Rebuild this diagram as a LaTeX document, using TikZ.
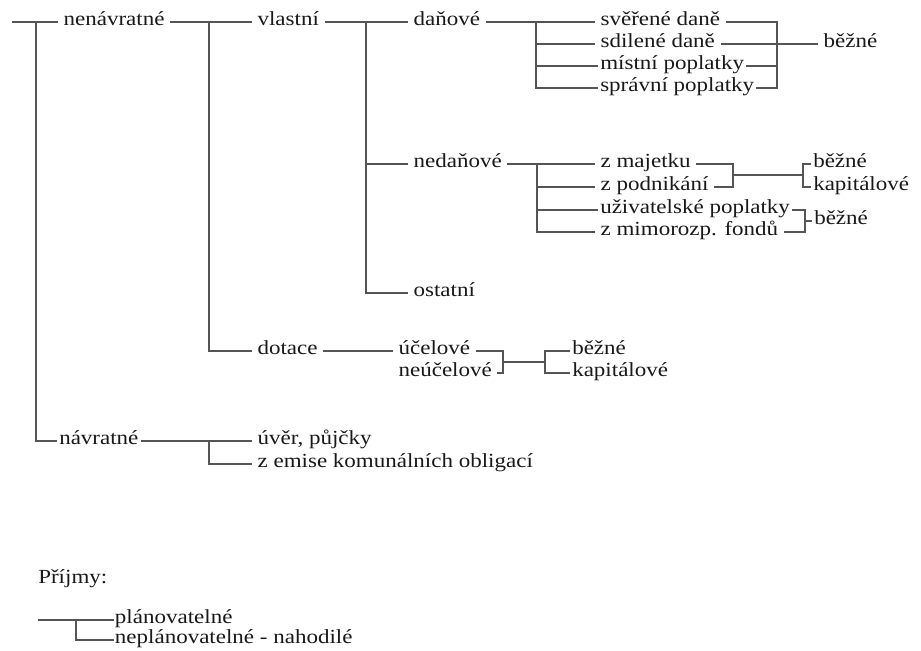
\documentclass[tikz,border=0pt]{standalone}
\usepackage{fontspec}
\setmainfont[FakeStretch=1.15]{Liberation Serif}
\usepackage{tikz}
\usetikzlibrary{positioning,calc}
\definecolor{linegray}{RGB}{85,85,85}
\definecolor{textgray}{RGB}{25,25,25}

\begin{document}
\begin{tikzpicture}[
    x=0.75pt, y=-0.75pt,
    lbl/.style={anchor=west, inner xsep=4pt, inner ysep=0pt, text height=0.72em, text depth=0.22em, text=textgray, font=\fontsize{15}{17}\selectfont},
    tight/.style={lbl, inner xsep=1.5pt},
    link/.style={draw=linegray, line width=1.1pt}
]
    \useasboundingbox (0,0) rectangle (921,650);

    \node[lbl] (nenavr) at (58,22) {nenávratné};
    \node[lbl] (vlastni) at (252,22) {vlastní};
    \node[lbl] (danove) at (408,22) {daňové};
    \node[lbl] (sverene) at (595,22) {svěřené daně};
    \node[lbl] (sdilene) at (595,44) {sdilené daně};
    \node[tight] (mistni) at (598,66) {místní poplatky};
    \node[tight] (spravni) at (598,88) {správní poplatky};
    \node[lbl] (bezne1) at (818,44) {běžné};

    \node[lbl] (nedanove) at (408,164) {nedaňové};
    \node[lbl] (majetek) at (595,164) {z majetku};
    \node[lbl] (podnikani) at (595,187) {z podnikání};
    \node[tight] (uzivatel) at (598,210) {uživatelské poplatky};
    \node[lbl] (mimoroz) at (595,232) {z mimorozp. fondů};
    \node[tight] (bezne2) at (811,164) {běžné};
    \node[tight] (kapital1) at (811,187) {kapitálové};
    \node[tight] (bezne3) at (812,221) {běžné};

    \node[lbl] (ostatni) at (408,293) {ostatní};

    \node[lbl] (dotace) at (252,351) {dotace};
    \node[lbl] (ucelove) at (393,351) {účelové};
    \node[lbl] (neucelove) at (393,373) {neúčelové};
    \node[tight] (bezne4) at (570,351) {běžné};
    \node[tight] (kapital2) at (570,373) {kapitálové};

    \node[tight] (navratne) at (57,441) {návratné};
    \node[lbl] (uver) at (252,441) {úvěr, půjčky};
    \node[lbl] (emise) at (252,464) {z emise komunálních obligací};

    \node[lbl, inner xsep=0pt] (prijmy) at (38,580) {Příjmy:};
    \node[tight, inner xsep=0.5pt] (planov) at (114,620) {plánovatelné};
    \node[tight, inner xsep=0.5pt] (neplanov) at (114,640) {neplánovatelné - nahodilé};

    \coordinate (start) at (12,22);
    \coordinate (j0) at (36,22);
    \coordinate (j1) at (209,22);
    \coordinate (j2) at (366,22);
    \coordinate (j3) at (536,22);
    \coordinate (k1) at (777,22);
    \coordinate (k1b) at (777,88);
    \coordinate (j4) at (537,164);
    \coordinate (k2) at (733,164);
    \coordinate (k2b) at (733,187);
    \coordinate (m2) at (733,175);
    \coordinate (m2r) at (803,175);
    \coordinate (k3) at (805,210);
    \coordinate (k3b) at (805,232);
    \coordinate (m3) at (805,221);
    \coordinate (k4) at (503,351);
    \coordinate (k4b) at (503,373);
    \coordinate (m4) at (503,362);
    \coordinate (m4r) at (545,362);
    \coordinate (j5) at (209,441);
    \coordinate (lstart) at (38,620);
    \coordinate (j6) at (76,620);

    \draw[link] (start) -- (nenavr);
    \draw[link] (j0) |- (navratne);
    \draw[link] (nenavr) -- (vlastni);
    \draw[link] (j1) |- (dotace);
    \draw[link] (vlastni) -- (danove);
    \draw[link] (j2) |- (nedanove);
    \draw[link] (j2) |- (ostatni);

    \draw[link] (danove) -- (sverene);
    \draw[link] (j3) |- (sdilene);
    \draw[link] (j3) |- (mistni);
    \draw[link] (j3) |- (spravni);
    \draw[link] (sverene) -- (k1) -- (k1b) -- (spravni);
    \draw[link] (mistni) -- (mistni -| k1);
    \draw[link] (sdilene) -- (bezne1);

    \draw[link] (nedanove) -- (majetek);
    \draw[link] (j4) |- (podnikani);
    \draw[link] (j4) |- (uzivatel);
    \draw[link] (j4) |- (mimoroz);
    \draw[link] (majetek) -- (k2) -- (k2b) -- (podnikani);
    \draw[link] (m2) -- (m2r);
    \draw[link] (bezne2) -| (m2r) |- (kapital1);
    \draw[link] (uzivatel) -- (k3) -- (k3b) -- (mimoroz);
    \draw[link] (m3) -- (bezne3);

    \draw[link] (dotace) -- (ucelove);
    \draw[link] (ucelove) -- (k4) -- (k4b) -- (neucelove);
    \draw[link] (m4) -- (m4r);
    \draw[link] (bezne4) -| (m4r) |- (kapital2);

    \draw[link] (navratne) -- (uver);
    \draw[link] (j5) |- (emise);

    \draw[link] (lstart) -- (planov);
    \draw[link] (j6) |- (neplanov);
\end{tikzpicture}
\end{document}
